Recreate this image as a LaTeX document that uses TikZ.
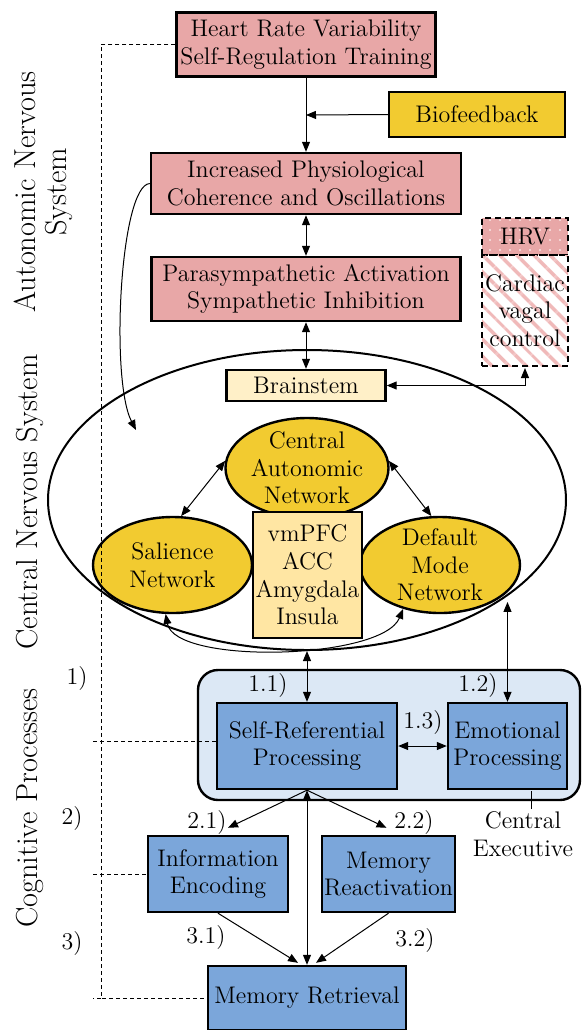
\documentclass[tikz,border=0pt]{standalone}
\usepackage{amsmath}
\usepackage{tikz}
\usetikzlibrary{arrows.meta, shapes.geometric, patterns.meta}

\definecolor{anspink}{RGB}{232,167,167}
\definecolor{stripepink}{RGB}{240,185,185}
\definecolor{feedyellow}{RGB}{242,203,48}
\definecolor{stemyellow}{RGB}{255,240,200}
\definecolor{coreyellow}{RGB}{255,230,163}
\definecolor{cogblue}{RGB}{123,166,218}
\definecolor{frameblue}{RGB}{220,232,245}

\begin{document}
\begin{tikzpicture}[
    x=0.5pt, y=-0.5pt,
    >={Triangle[length=5pt, width=4pt]},
    ansbox/.style={rectangle, draw, line width=1.2pt, fill=anspink, align=center, inner sep=2pt, font=\fontsize{12}{13.8}\selectfont},
    feedbox/.style={rectangle, draw, line width=1.2pt, fill=feedyellow, align=center, font=\fontsize{12}{13.8}\selectfont},
    stembox/.style={rectangle, draw, line width=1.2pt, fill=stemyellow, align=center, inner sep=1pt, font=\fontsize{12}{13.8}\selectfont},
    netnode/.style={ellipse, draw, line width=1.2pt, fill=feedyellow, align=center, inner xsep=-1pt, inner ysep=-5pt, font=\fontsize{12}{13.8}\selectfont},
    cogbox/.style={rectangle, draw, line width=1.2pt, fill=cogblue, align=center, inner sep=1pt, font=\fontsize{12}{13.8}\selectfont},
    hrvbox/.style={rectangle, draw, line width=1.2pt, dash pattern=on 3pt off 2pt, align=center, inner sep=0pt, font=\fontsize{12}{13.8}\selectfont},
    lbl/.style={font=\fontsize{12}{13.8}\selectfont, inner sep=1pt},
    sidelbl/.style={rotate=90, align=center, font=\fontsize{15.2}{15.5}\selectfont},
    conn/.style={line width=0.5pt},
    guide/.style={line width=0.5pt, dash pattern=on 2pt off 1.5pt}
]
    \useasboundingbox (0,0) rectangle (582,1030);

    % Autonomic nervous system
    \node[ansbox, minimum width=128pt, minimum height=32pt] (train) at (306,44.5) {Heart Rate Variability\\Self-Regulation Training};
    \node[feedbox, minimum width=88pt, minimum height=22.5pt] (bio) at (477,114.5) {Biofeedback};
    \node[ansbox, minimum width=155pt, minimum height=30.5pt] (coh) at (306,183.5) {Increased Physiological\\Coherence and Oscillations};
    \node[ansbox, minimum width=154.5pt, minimum height=32pt] (para) at (306,289) {Parasympathetic Activation\\Sympathetic Inhibition};

    % HRV / cardiac vagal control
    \node[hrvbox, minimum width=43pt, minimum height=18.5pt, preaction={fill=anspink},
          pattern={Dots[distance=5pt, radius=0.45pt]}, pattern color=white] (hrv) at (525,236.5) {HRV};
    \node[hrvbox, minimum width=43pt, minimum height=55.5pt,
          pattern={Lines[angle=-45, distance=6.5pt, line width=2pt]}, pattern color=stripepink] (vagal) at (525,310.5) {Cardiac\\vagal\\control};

    % Central nervous system
    \node[ellipse, draw, line width=1pt, minimum width=259pt, minimum height=150pt, inner sep=0pt] (cns) at (307,500) {};
    \node[stembox, minimum width=79.5pt, minimum height=15.5pt] (brain) at (306,385.5) {Brainstem};
    \node[netnode, minimum width=81.5pt, minimum height=50pt] (can) at (307,468) {Central\\Autonomic\\Network};
    \node[netnode, minimum width=79.5pt, minimum height=48pt] (sal) at (172.5,565) {Salience\\Network};
    \node[netnode, minimum width=80pt, minimum height=48pt] (dmn) at (440,565) {Default\\Mode\\Network};
    \node[stembox, fill=coreyellow, minimum width=54.5pt, minimum height=63pt] (core) at (307.5,575) {vmPFC\\ACC\\Amygdala\\Insula};

    % Cognitive processes
    \node[rectangle, draw, line width=1.2pt, fill=frameblue, rounded corners=10pt, minimum width=191pt, minimum height=65pt] (exec) at (389,735) {};
    \node[cogbox, minimum width=90pt, minimum height=43pt] (self) at (307,746) {Self-Referential\\Processing};
    \node[cogbox, minimum width=59.5pt, minimum height=43pt] (emo) at (507.5,746) {Emotional\\Processing};
    \node[cogbox, minimum width=70pt, minimum height=38pt] (enc) at (218,874) {Information\\Encoding};
    \node[cogbox, minimum width=66.5pt, minimum height=38pt] (react) at (388.5,874) {Memory\\Reactivation};
    \node[cogbox, minimum width=99pt, minimum height=32pt] (retr) at (307,998) {Memory Retrieval};

    % Step labels
    \node[lbl] (l1) at (77,678) {1)};
    \node[lbl] (l2) at (72,818) {2)};
    \node[lbl] (l3) at (72,943) {3)};
    \node[lbl] (l11) at (268,686) {1.1)};
    \node[lbl] (l12) at (478,686) {1.2)};
    \node[lbl] (l13) at (423,722) {1.3)};
    \node[lbl] (l21) at (207,822) {2.1)};
    \node[lbl] (l22) at (414,822) {2.2)};
    \node[lbl] (l31) at (206,937) {3.1)};
    \node[lbl] (l32) at (415,940) {3.2)};
    \node[lbl, align=center] (execlbl) at (523,834) {Central\\Executive};
    \coordinate (exectick) at (531,791);
    \draw[conn] (execlbl.north -| exectick) -- (exectick);

    % Side labels
    \node[sidelbl] (anslbl) at (43,192) {Autonomic Nervous\\System};
    \node[sidelbl] (cnslbl) at (30,502) {Central Nervous System};
    \node[sidelbl] (coglbl) at (30,808) {Cognitive Processes};

    % Dashed level guides
    \coordinate (gtop) at (101,44.5);
    \coordinate (gbot) at (101,998);
    \coordinate (gself) at (93,741);
    \coordinate (genc) at (93,874);
    \draw[guide] (train.west) -- (gtop) -- (gbot) -- (retr.west);
    \draw[guide] (gself) -- (gself -| self.west);
    \draw[guide] (genc) -- (enc.west);
    \draw[guide] (gbot) -- ++(-8,0);

    % Connectors
    \coordinate (join) at (306,115);
    \draw[conn, ->] (train.south) -- (coh.north);
    \draw[conn, ->] (bio.west) -- (join);
    \draw[conn, <->] (coh.south) -- (para.north);
    \draw[conn, <->] (para.south) -- (brain.north);
    \draw[conn, <->] (brain.east) -| (vagal.south);
    \coordinate (cnsin) at (136,430);
    \draw[conn, ->] (coh.west) .. controls (120,185) and (110,380) .. (cnsin);
    \draw[conn, <->] (can.175) -- (sal.80);
    \draw[conn, <->] (can.5) -- (dmn.100);
    \draw[conn, <->] (sal.-98) .. controls (175,665) and (382,660) .. (dmn.-130);
    \draw[conn, <->] (cns.south) -- (self.north);
    \draw[conn, <->] (emo.north |- cns.-28) -- (emo.north);
    \draw[conn, <->] (self.east) -- (emo.west);
    \draw[conn, ->] (self.south) -- ([xshift=5pt, yshift=3.5pt]enc.north);
    \draw[conn, ->] (self.south) -- ([xshift=-1pt, yshift=3.5pt]react.north);
    \draw[conn, <->] (self.south) -- (retr.north);
    \draw[conn, ->] (enc.south) -- ([xshift=-4.5pt, yshift=1pt]retr.north);
    \draw[conn, ->] (react.south) -- ([xshift=4.5pt, yshift=1pt]retr.north);
\end{tikzpicture}
\end{document}
